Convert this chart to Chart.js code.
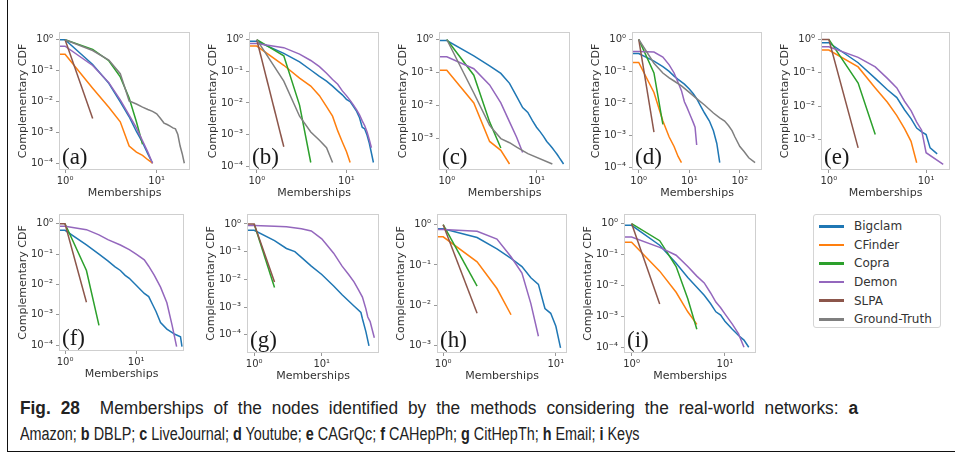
<!DOCTYPE html>
<html>
<head>
<meta charset="utf-8">
<script src="https://cdn.jsdelivr.net/npm/chart.js@4.4.1/dist/chart.umd.min.js"></script>
<style>
  html, body { margin: 0; padding: 0; background: #fff; }
  body { width: 955px; height: 457px; position: relative; overflow: hidden; font-family: 'DejaVu Sans', sans-serif; }
  .outer { position: absolute; left: 7px; top: -5px; width: 1000px; height: 457px; border: 1px solid #111; box-sizing: border-box; }
  canvas.panel { position: absolute; }
  #legend { position: absolute; left: 813px; top: 214px; width: 128px; height: 114px; box-sizing: border-box;
            border: 1px solid #d5d5d5; border-radius: 3px; padding-top: 2px; }
  #legend .row { height: 18.6px; display: flex; align-items: center; font-size: 12px; color: #333; }
  #legend .swatch { width: 25px; height: 2.5px; margin: 0 10px 0 5px; }
  #caption { position: absolute; left: 20px; top: 395px; font-family: 'Liberation Sans', Arial, sans-serif;
             font-size: 18px; line-height: 26px; color: #222; }
  #cap1 { width: 873px; text-align: justify; text-align-last: justify; transform: scaleX(0.96); transform-origin: 0 0; }
  #cap2 { white-space: nowrap; transform: scaleX(0.8); transform-origin: 0 0; }
  #caption b { font-weight: bold; }
</style>
</head>
<body>
<div class="outer"></div>
<div id="plots"></div>
<div id="legend"></div>
<div id="caption"><div id="cap1"></div><div id="cap2"></div></div>
<script>
const methods = ['Bigclam', 'CFinder', 'Copra', 'Demon', 'SLPA', 'Ground-Truth'];
const methodColors = ['#1f77b4', '#ff7f0e', '#2ca02c', '#9467bd', '#8c564b', '#7f7f7f'];
const panelLetters = ['a', 'b', 'c', 'd', 'e', 'f', 'g', 'h', 'i'];
const networks = ['Amazon', 'DBLP', 'LiveJournal', 'Youtube', 'CAGrQc', 'CAHepPh', 'CitHepTh', 'Email', 'Keys'];
const xTickValues = [1, 10, 100];
const yTickValues = [1, 0.1, 0.01, 0.001, 0.0001];

// [memberships, complementary CDF]; membership 0.5 stands in for the zero bin,
// which falls left of the log axis and gets clipped at the frame
const amazonBigclam = [[0.5, 1], [1, 1], [2, 0.158], [3, 0.039], [4, 0.0098], [5, 0.0032], [6, 0.00107], [7, 4.7e-4], [8, 2.0e-4], [9, 1e-4]];
const amazonCFinder = [[0.5, 0.34], [1, 0.34], [2, 0.027], [3, 0.0065], [4, 0.0022], [5, 3.6e-4], [6, 2.3e-4], [7, 1.8e-4], [8, 1.3e-4], [9, 1e-4]];
const amazonCopra = [[1, 1], [2, 0.49], [3, 0.21], [4, 0.063], [5, 0.013], [6, 0.0022], [7, 4.1e-4]];
const amazonDemon = [[0.5, 0.62], [1, 0.62], [2, 0.147], [3, 0.041], [4, 0.0113], [5, 0.0036], [6, 0.0014], [7, 5.3e-4], [8, 2.3e-4], [9, 1e-4]];
const amazonSLPA = [[1, 1], [2, 0.0028]];
const amazonTruth = [[1, 1], [2, 0.45], [3, 0.22], [4, 0.08], [5, 0.0105], [6, 0.0083], [7, 0.0066], [8, 0.0055], [9, 0.0048], [10, 0.004],
  [11, 0.0028], [12, 0.002], [13, 0.0018], [14, 0.0016], [15, 0.0014], [16, 0.0013], [17, 8.5e-4], [18, 3.6e-4], [19, 2.0e-4], [20, 1e-4]];

const dblpBigclam = [[0.5, 0.89], [1, 0.89], [2, 0.37], [3, 0.2], [4, 0.11], [5, 0.069], [6, 0.049], [7, 0.034], [8, 0.024], [9, 0.018], [10, 0.013],
  [11, 0.011], [12, 0.0076], [13, 0.0054], [14, 0.0034], [15, 0.0017], [16, 0.0015], [17, 9.5e-4], [18, 5.3e-4], [19, 2.6e-4], [20, 1.3e-4]];
const dblpCFinder = [[0.5, 0.63], [1, 0.63], [2, 0.155], [3, 0.061], [4, 0.034], [5, 0.017], [6, 0.0076], [7, 0.0038], [8, 0.0013], [9, 5.8e-4], [10, 2.9e-4], [11, 1.3e-4]];
const dblpCopra = [[1, 1], [2, 0.31], [3, 0.0085], [4, 1.3e-4]];
const dblpDemon = [[0.5, 0.76], [1, 0.76], [2, 0.56], [3, 0.35], [4, 0.22], [5, 0.14], [6, 0.087], [7, 0.055], [8, 0.039], [9, 0.024], [10, 0.017],
  [11, 0.012], [12, 0.0085], [13, 0.006], [14, 0.0042], [15, 0.0027], [16, 0.0019], [17, 0.0012], [18, 6.8e-4], [19, 3.8e-4]];
const dblpSLPA = [[1, 1], [2, 4.1e-4]];
const dblpTruth = [[1, 1], [2, 0.049], [3, 0.0038], [4, 0.0012], [5, 6.6e-4], [6, 3.8e-4], [7, 1.3e-4]];

const ljBigclam = [[0.5, 0.93], [1, 0.93], [2, 0.32], [3, 0.16], [4, 0.094], [5, 0.047], [6, 0.019], [7, 0.0087], [8, 0.0062], [9, 0.0035], [10, 0.0022],
  [11, 0.0016], [12, 0.00115], [13, 8.2e-4], [14, 6.5e-4], [15, 5.2e-4], [16, 4.1e-4], [17, 3.3e-4], [18, 2.6e-4], [19, 2.1e-4], [20, 1.7e-4]];
const ljCFinder = [[0.5, 0.117], [1, 0.117], [2, 0.012], [3, 8.2e-4], [4, 4.4e-4], [5, 1.7e-4]];
const ljCopra = [[1, 1], [2, 0.083], [3, 0.0032], [4, 5.2e-4]];
const ljDemon = [[0.5, 0.3], [1, 0.3], [2, 0.13], [3, 0.042], [4, 0.012], [5, 0.0032], [6, 0.0011], [7, 3.8e-4]];
const ljTruth = [[1, 1], [2, 0.024], [3, 0.0025], [4, 0.001], [5, 7.5e-4], [6, 5.5e-4], [7, 4.3e-4], [8, 3.5e-4], [15, 1.7e-4]];

const ytBigclam = [[0.5, 0.37], [1, 0.36], [2, 0.21], [3, 0.14], [4, 0.1], [5, 0.071], [6, 0.056], [8, 0.04], [10, 0.028], [12, 0.02], [14, 0.014],
  [17, 0.0079], [20, 0.005], [25, 0.0028], [30, 0.0014], [35, 5.6e-4], [40, 1.4e-4]];
const ytCFinder = [[0.5, 0.19], [1, 0.19], [2, 0.022], [3, 0.0028], [4, 8.9e-4], [5, 4.5e-4], [6, 2.2e-4], [7, 1.4e-4]];
const ytCopra = [[1, 1], [2, 0.089], [3, 0.0022]];
const ytDemon = [[0.5, 0.42], [1, 0.42], [2, 0.4], [3, 0.28], [4, 0.16], [5, 0.089], [6, 0.045], [7, 0.025], [8, 0.0112], [9, 0.0075], [10, 0.005],
  [11, 0.0035], [12, 0.0025], [13, 0.0018], [14, 5e-4]];
const ytSLPA = [[1, 1], [2, 0.00126]];
const ytTruth = [[1, 1], [2, 0.18], [3, 0.089], [4, 0.063], [5, 0.05], [7, 0.035], [10, 0.022], [14, 0.014], [20, 0.0089], [30, 0.005], [40, 0.0035],
  [50, 0.0028], [60, 0.002], [70, 0.0014], [80, 8.9e-4], [100, 4.5e-4], [120, 3.2e-4], [150, 2e-4], [200, 1.4e-4]];

const grqcBigclam = [[0.5, 0.8], [1, 0.8], [2, 0.2], [3, 0.068], [4, 0.031], [5, 0.018], [6, 0.0078], [7, 0.0042], [8, 0.0022], [9, 0.0017], [10, 0.0014], [11, 5.6e-4], [13, 3.7e-4]];
const grqcCFinder = [[0.5, 0.48], [1, 0.48], [2, 0.15], [3, 0.035], [4, 0.013], [5, 0.0052], [6, 0.0021], [7, 8.8e-4], [8, 2e-4]];
const grqcCopra = [[1, 1], [2, 0.049], [3, 0.0014]];
const grqcDemon = [[0.5, 0.6], [1, 0.6], [2, 0.29], [3, 0.15], [4, 0.068], [5, 0.035], [6, 0.014], [7, 0.0073], [8, 0.0033], [9, 0.0019], [10, 4e-4], [15, 1.8e-4]];
const grqcSLPA = [[0.5, 1], [1, 1], [2, 5.6e-4]];

const hepphBigclam = [[0.5, 0.61], [1, 0.61], [2, 0.2], [3, 0.1], [4, 0.06], [5, 0.039], [6, 0.029], [7, 0.02], [8, 0.016], [10, 0.0095], [13, 0.0051],
  [15, 0.004], [17, 0.0022], [19, 0.0013], [22, 5.6e-4], [27, 3.4e-4], [35, 2.3e-4], [42, 1.9e-4], [44, 9e-5]];
const hepphCopra = [[1, 1], [2, 0.029], [3, 4.5e-4]];
const hepphDemon = [[0.5, 0.82], [1, 0.82], [2, 0.64], [3, 0.43], [4, 0.3], [6, 0.2], [8, 0.14], [10, 0.1], [13, 0.065], [15, 0.04], [18, 0.02],
  [22, 0.0082], [27, 0.0025], [32, 4.5e-4], [37, 9e-5]];
const hepphSLPA = [[0.5, 1], [1, 1], [2, 0.0026]];

const hepthBigclam = [[0.5, 0.59], [1, 0.59], [2, 0.25], [3, 0.13], [4, 0.1], [5, 0.062], [7, 0.03], [10, 0.015], [15, 0.0058], [20, 0.0028],
  [30, 0.0011], [38, 6.4e-4], [40, 3.8e-4], [45, 1.3e-4], [50, 4e-5]];
const hepthCopra = [[1, 1], [2, 0.0051]];
const hepthDemon = [[0.5, 0.88], [1, 0.88], [2, 0.83], [3, 0.79], [5, 0.67], [7, 0.56], [10, 0.29], [12, 0.17], [15, 0.088], [20, 0.03], [25, 0.015],
  [30, 0.0081], [35, 0.0042], [40, 0.0023], [45, 8.6e-4], [48, 4.4e-4], [52, 3e-4], [56, 1.5e-4], [60, 7.8e-5]];
const hepthSLPA = [[0.5, 1], [1, 1], [2, 0.0081]];

const emailBigclam = [[0.5, 0.79], [1, 0.79], [2, 0.48], [3, 0.25], [4, 0.145], [5, 0.091], [6, 0.048], [7, 0.033], [8, 0.0083], [9, 0.0063], [10, 0.003], [11, 8.7e-4]];
const emailCFinder = [[0.5, 0.5], [1, 0.5], [2, 0.12], [3, 0.026], [4, 0.0058]];
const emailCopra = [[1, 1], [2, 0.03]];
const emailDemon = [[0.5, 0.76], [1, 0.76], [2, 0.69], [3, 0.44], [4, 0.16], [5, 0.063], [6, 0.011], [7, 0.0017]];
const emailSLPA = [[1, 1], [2, 0.0063]];

const keysBigclam = [[0.5, 0.89], [1, 0.88], [2, 0.2], [3, 0.052], [4, 0.018], [5, 0.0087], [6, 0.0048], [7, 0.0026], [8, 0.0014], [9, 0.0011],
  [10, 6.9e-4], [12, 3.8e-4], [14, 2.4e-4], [16, 1.7e-4], [18, 1e-4]];
const keysCFinder = [[0.5, 0.25], [1, 0.25], [2, 0.029], [3, 0.006], [4, 0.0014], [5, 5.5e-4]];
const keysCopra = [[1, 1], [2, 0.28], [3, 0.041], [4, 0.0037], [5, 3.8e-4]];
const keysDemon = [[0.5, 0.37], [1, 0.37], [2, 0.17], [3, 0.095], [4, 0.041], [5, 0.02], [6, 0.012], [7, 0.0058], [8, 0.0029], [9, 0.0019],
  [10, 0.0012], [12, 5.6e-4], [14, 2.7e-4], [16, 1e-4]];
const keysSLPA = [[1, 1], [2, 0.0025]];

// one entry per method, null where the method has no curve on that network
const panelSeries = [
  [amazonBigclam, amazonCFinder, amazonCopra, amazonDemon, amazonSLPA, amazonTruth],
  [dblpBigclam, dblpCFinder, dblpCopra, dblpDemon, dblpSLPA, dblpTruth],
  [ljBigclam, ljCFinder, ljCopra, ljDemon, null, ljTruth],
  [ytBigclam, ytCFinder, ytCopra, ytDemon, ytSLPA, ytTruth],
  [grqcBigclam, grqcCFinder, grqcCopra, grqcDemon, grqcSLPA, null],
  [hepphBigclam, null, hepphCopra, hepphDemon, hepphSLPA, null],
  [hepthBigclam, null, hepthCopra, hepthDemon, hepthSLPA, null],
  [emailBigclam, emailCFinder, emailCopra, emailDemon, emailSLPA, null],
  [keysBigclam, keysCFinder, keysCopra, keysDemon, keysSLPA, null]
];
const xRanges = [[0.88, 22.5], [0.84, 22.5], [0.84, 23], [0.77, 262], [0.85, 17.2], [0.85, 45.5], [0.81, 68], [0.9, 12.3], [0.85, 21]];
const yRanges = [[6.5e-5, 1.66], [8.1e-5, 1.63], [1.2e-4, 1.57], [8.9e-5, 1.58], [1.3e-4, 1.56], [7.1e-5, 1.94], [2.4e-5, 2.1], [6.9e-4, 1.74], [7.1e-5, 1.9]];

// plot frames on the page: left, top, right, bottom
const frames = [[60, 28, 189, 169], [250, 28, 378, 169], [440, 28, 569, 169], [633, 28, 761, 169], [822, 28, 949, 169],
  [60, 210, 183, 350], [248, 210, 378, 352], [438, 210, 566, 352], [625, 210, 755, 352]];
const Y_AXIS_W = 46, X_AXIS_H = 32, PAD_T = 4, PAD_R = 4;

const SUP = { '-': '\u207b', '0': '\u2070', '1': '\u00b9', '2': '\u00b2', '3': '\u00b3', '4': '\u2074', '5': '\u2075' };
function powLabel(v) {
  const e = Math.round(Math.log10(v));
  return '10' + String(e).split('').map(c => SUP[c]).join('');
}
function decadeTicks(values) {
  return s => { s.ticks = values.filter(v => v >= s.min && v <= s.max).map(v => ({ value: v })); };
}

// light grey box round the plot area, like the matplotlib spines
const spines = {
  id: 'spines',
  afterDatasetsDraw(chart) {
    const { ctx, chartArea: a } = chart;
    ctx.save();
    ctx.strokeStyle = '#cfcfcf';
    ctx.lineWidth = 1;
    ctx.strokeRect(a.left - 0.5, a.top - 0.5, a.right - a.left + 1, a.bottom - a.top + 1);
    ctx.restore();
  }
};
// serif "(a)" tag in the lower left corner
const panelTag = {
  id: 'panelTag',
  afterDraw(chart, args, opts) {
    const { ctx, chartArea: a } = chart;
    ctx.save();
    ctx.font = '23px "Liberation Serif", serif';
    ctx.fillStyle = '#1a1a1a';
    ctx.textBaseline = 'alphabetic';
    ctx.fillText('(' + opts.text + ')', a.left + 2, a.bottom - 5);
    ctx.restore();
  }
};

const plots = document.getElementById('plots');
panelSeries.forEach((series, p) => {
  const [l, t, r, b] = frames[p];
  const canvas = document.createElement('canvas');
  canvas.className = 'panel';
  canvas.width = r - l + Y_AXIS_W + PAD_R;
  canvas.height = b - t + PAD_T + X_AXIS_H;
  canvas.style.left = (l - Y_AXIS_W) + 'px';
  canvas.style.top = (t - PAD_T) + 'px';
  plots.appendChild(canvas);

  const datasets = [];
  series.forEach((pts, i) => {
    if (!pts) return;
    datasets.push({
      label: methods[i],
      data: pts.map(([x, y]) => ({ x, y })),
      borderColor: methodColors[i],
      backgroundColor: methodColors[i],
      borderWidth: 1.5,
      pointRadius: 0,
      tension: 0,
      order: methods.length - i
    });
  });

  new Chart(canvas, {
    type: 'line',
    data: { datasets },
    options: {
      responsive: false,
      animation: false,
      devicePixelRatio: 1,
      layout: { padding: { top: PAD_T, right: PAD_R, left: 0, bottom: 0 } },
      plugins: { legend: { display: false }, tooltip: { enabled: false }, panelTag: { text: panelLetters[p] } },
      scales: {
        x: {
          type: 'logarithmic',
          min: xRanges[p][0],
          max: xRanges[p][1],
          afterBuildTicks: decadeTicks(xTickValues),
          afterFit: s => { s.height = X_AXIS_H; },
          ticks: { callback: powLabel, autoSkip: false, maxRotation: 0, padding: 2, color: '#333', font: { family: 'DejaVu Sans', size: 10 } },
          grid: { drawOnChartArea: false, tickLength: 4, color: '#999' },
          border: { display: false },
          title: { display: true, text: 'Memberships', color: '#333', font: { family: 'DejaVu Sans', size: 11 }, padding: { top: 0, bottom: 1 } }
        },
        y: {
          type: 'logarithmic',
          min: yRanges[p][0],
          max: yRanges[p][1],
          afterBuildTicks: decadeTicks(yTickValues),
          afterFit: s => { s.width = Y_AXIS_W; },
          ticks: { callback: powLabel, autoSkip: false, padding: 3, color: '#333', font: { family: 'DejaVu Sans', size: 10 } },
          grid: { drawOnChartArea: false, tickLength: 4, color: '#999' },
          border: { display: false },
          title: { display: true, text: 'Complementary CDF', color: '#333', font: { family: 'DejaVu Sans', size: 11 }, padding: { top: 3, bottom: 0 } }
        }
      }
    },
    plugins: [spines, panelTag]
  });
});

// shared legend for all nine panels
const legend = document.getElementById('legend');
methods.forEach((m, i) => {
  const row = document.createElement('div');
  row.className = 'row';
  row.innerHTML = '<span class="swatch" style="background:' + methodColors[i] + '"></span>' + m;
  legend.appendChild(row);
});

document.getElementById('cap1').innerHTML = '<b>Fig.&nbsp;28</b>&nbsp;&nbsp;Memberships of the nodes identified by the methods considering the real-world networks: <b>' +
  panelLetters[0] + '</b>';
document.getElementById('cap2').innerHTML = networks[0] + '; ' +
  networks.slice(1).map((n, i) => '<b>' + panelLetters[i + 1] + '</b> ' + n).join('; ');
</script>
</body>
</html>
